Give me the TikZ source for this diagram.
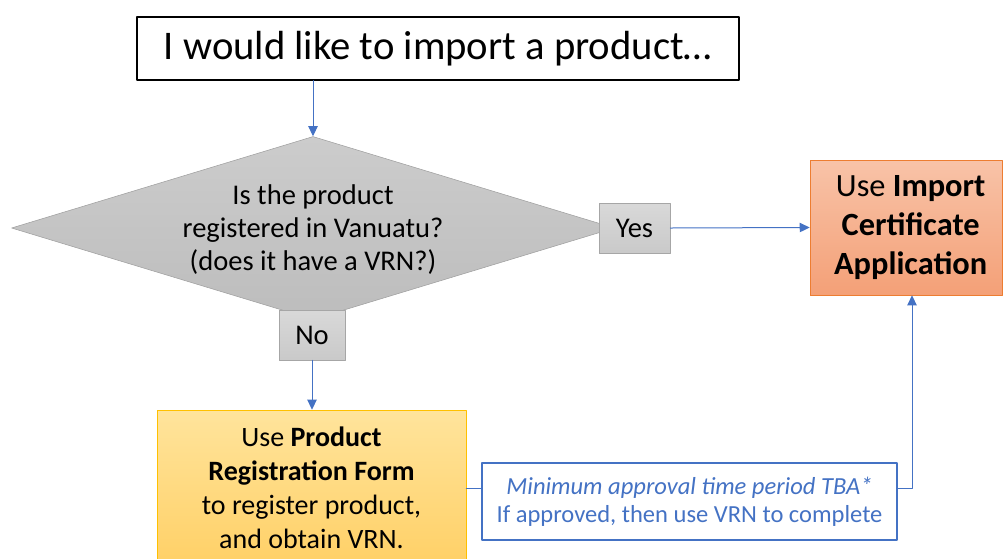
\documentclass[tikz,border=0pt]{standalone}
\usepackage{fontspec}
\setmainfont{Carlito}
\usepackage{tikz}
\usetikzlibrary{arrows.meta}
\usetikzlibrary{shapes.geometric}

\definecolor{linkblue}{HTML}{4472C4}
\definecolor{boxgray}{HTML}{A6A6A6}
\definecolor{orangeline}{HTML}{ED7D31}
\definecolor{orangetop}{HTML}{F8C3A8}
\definecolor{orangebot}{HTML}{F4A077}
\definecolor{goldline}{HTML}{FFC000}
\definecolor{goldtop}{HTML}{FFE49C}
\definecolor{goldbot}{HTML}{FFD066}

\begin{document}
\begin{tikzpicture}[line cap=round,line join=round,>={Triangle[length=7.5pt,width=7pt]},x=0.75pt,y=-0.75pt,
	link/.style={draw=linkblue,line width=0.75pt},
	answer/.style={rectangle,draw=boxgray,top color=gray!30,bottom color=gray!42,
		minimum width=#1,minimum height=37.5pt,inner sep=0pt,font=\fontsize{21.4}{25}\selectfont},
	answer/.default=50pt]
	\useasboundingbox (0,0) rectangle (1003,558);
	% question
	\node[rectangle,draw=black,line width=1pt,fill=white,minimum width=451.5pt,minimum height=47.25pt,
		inner sep=0pt,font=\fontsize{30.5}{36}\selectfont] (start) at (438,48.5) {I would like to import a product\dots};
	\node[diamond,draw=gray!75,top color=gray!40,bottom color=gray!52,minimum width=452.25pt,minimum height=137.25pt,
		inner sep=0pt] (check) at (313,228) {};
	\node[align=center,font=\fontsize{21.4}{24.75}\selectfont] (checktext) at ([yshift=-1.5pt]check.center)
		{Is the product\\registered in Vanuatu?\\(does it have a VRN?)};
	\node[answer=53.25pt] (yes) at (634.5,228) {Yes};
	\node[answer=49.5pt] (no) at (312,335) {No};
	% outcomes
	\node[rectangle,draw=orangeline,top color=orangetop,bottom color=orangebot,
		minimum width=144pt,minimum height=101.25pt,inner sep=0pt,align=center,
		font=\fontsize{24.3}{29.25}\selectfont] (import) at (906,227.5)
		{\hspace*{7pt}Use \textbf{Import}\\\hspace*{7pt}\textbf{Certificate}\\\hspace*{7pt}\textbf{Application}};
	\node[rectangle,draw=goldline,top color=goldtop,bottom color=goldbot,
		minimum width=231.75pt,minimum height=117pt,inner sep=0pt,align=center,
		font=\fontsize{21}{25.5}\selectfont] (regform) at (311.5,488)
		{Use \textbf{Product}\\\textbf{Registration Form}\\to register product,\\and obtain VRN.};
	\node[rectangle,draw=linkblue,line width=1pt,fill=white,minimum width=311.25pt,minimum height=57.75pt,
		inner sep=0pt,align=center,text=linkblue,font=\fontsize{18.4}{21}\selectfont] (note) at (689.5,501.5)
		{\textit{Minimum approval time period TBA*}\\If approved, then use VRN to complete};
	% connectors
	\draw [link,->] (check.north |- start.south) -- (check.north);
	\draw [link,->] (yes.east) -- (import.west);
	\draw [link,->] (no.south) -- (no.south |- regform.north);
	\draw [link] (regform.east) -- (note.west |- regform.east);
	\coordinate (bend) at ([xshift=4.5pt]import.south);
	\draw [link,->] (note.east |- regform.east) -- (bend |- regform.east) -- (bend);
\end{tikzpicture}
\end{document}
